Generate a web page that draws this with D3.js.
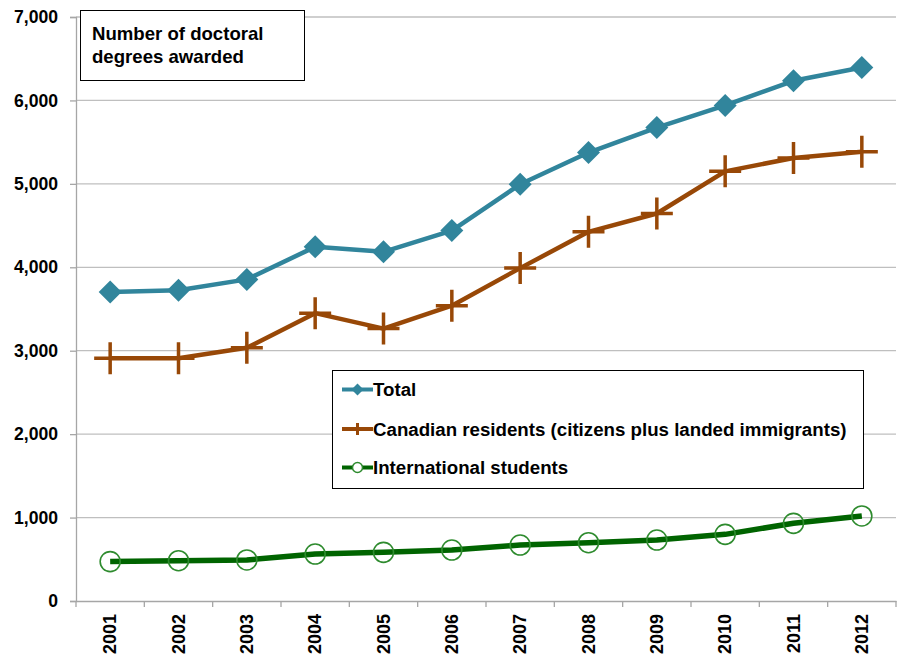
<!DOCTYPE html>
<html>
<head>
<meta charset="utf-8">
<script src="https://cdn.jsdelivr.net/npm/d3@7"></script>
<style>
  html, body { margin: 0; padding: 0; background: #fff; }
  svg { display: block; font-family: "Liberation Sans", Arial, sans-serif; }
</style>
</head>
<body>
<svg id="chart" width="903" height="658"></svg>
<script>
const years = ["2001","2002","2003","2004","2005","2006","2007","2008","2009","2010","2011","2012"];
const total = [3705, 3725, 3855, 4245, 4185, 4440, 4995, 5375, 5675, 5940, 6235, 6395];
const canadian = [2910, 2910, 3035, 3450, 3265, 3540, 3990, 4425, 4645, 5150, 5310, 5385];
const international = [472, 483, 492, 563, 583, 611, 671, 699, 731, 799, 931, 1019];
const yTicks = [0, 1000, 2000, 3000, 4000, 5000, 6000, 7000];
const seriesNames = ["Total", "Canadian residents (citizens plus landed immigrants)", "International students"];
const chartTitle = ["Number of doctoral", "degrees awarded"];

const svg = d3.select("#chart");
const margin = { left: 76, right: 7, top: 17, bottom: 57 };
const W = 903, H = 658;

const x = d3.scaleBand().domain(years).range([margin.left, W - margin.right]);
const y = d3.scaleLinear().domain([0, 7000]).range([H - margin.bottom, margin.top]);

// gridlines
svg.append("g").selectAll("line").data(yTicks.filter(d => d > 0)).join("line")
  .attr("x1", margin.left).attr("x2", W - margin.right)
  .attr("y1", d => y(d)).attr("y2", d => y(d))
  .attr("stroke", "#bfbfbf").attr("stroke-width", 1.3);

// y axis
const yAxis = svg.append("g").attr("transform", `translate(${margin.left},0)`)
  .call(d3.axisLeft(y).tickValues(yTicks).tickSize(6).tickPadding(12).tickFormat(d3.format(",")));
yAxis.select(".domain").attr("stroke", "#a6a6a6").attr("stroke-width", 1.3);
yAxis.selectAll(".tick line").attr("stroke", "#a6a6a6").attr("stroke-width", 1.3);
yAxis.selectAll("text").attr("font-size", 17.6).attr("font-weight", "bold").attr("fill", "#000")
  .attr("font-family", "Liberation Sans, Arial, sans-serif");

// x axis
const xAxis = svg.append("g").attr("transform", `translate(0,${y(0)})`)
  .call(d3.axisBottom(x).tickSize(0).tickPadding(0));
xAxis.select(".domain").attr("stroke", "#a6a6a6").attr("stroke-width", 1.3);
// band boundary ticks
const bounds = years.map(d => x(d)).concat([x(years[years.length-1]) + x.bandwidth()]);
svg.append("g").selectAll("line").data(bounds).join("line")
  .attr("x1", d => d).attr("x2", d => d)
  .attr("y1", y(0)).attr("y2", y(0) + 6)
  .attr("stroke", "#a6a6a6").attr("stroke-width", 1.3);
xAxis.selectAll("text")
  .attr("font-size", 18).attr("font-weight", "bold").attr("fill", "#000")
  .attr("font-family", "Liberation Sans, Arial, sans-serif")
  .attr("transform", "rotate(-90)")
  .attr("text-anchor", "end")
  .attr("x", -13).attr("y", 0).attr("dy", "0.35em");

const cx = d => x(d) + x.bandwidth() / 2;

// lines
const lineGen = d3.line().x((d, i) => cx(years[i])).y(d => y(d));

const colTotal = "#31859c";
const colCan = "#984807";
const colIntLine = "#006400";
const colIntMark = "#2e8b2e";

// International
svg.append("path").datum(international).attr("d", lineGen)
  .attr("fill", "none").attr("stroke", colIntLine).attr("stroke-width", 5.5).attr("stroke-linejoin", "round");
svg.append("g").selectAll("circle").data(international).join("circle")
  .attr("cx", (d, i) => cx(years[i])).attr("cy", d => y(d)).attr("r", 10)
  .attr("fill", "none").attr("stroke", colIntMark).attr("stroke-width", 1.6);

// Canadian
svg.append("path").datum(canadian).attr("d", lineGen)
  .attr("fill", "none").attr("stroke", colCan).attr("stroke-width", 4.5).attr("stroke-linejoin", "round");
svg.append("g").selectAll("path").data(canadian).join("path")
  .attr("d", (d, i) => {
    const px = cx(years[i]), py = y(d), s = 16;
    return `M${px - s},${py}H${px + s}M${px},${py - s}V${py + s}`;
  })
  .attr("stroke", colCan).attr("stroke-width", 3.5).attr("fill", "none");

// Total
svg.append("path").datum(total).attr("d", lineGen)
  .attr("fill", "none").attr("stroke", colTotal).attr("stroke-width", 4.5).attr("stroke-linejoin", "round");
svg.append("g").selectAll("path").data(total).join("path")
  .attr("d", (d, i) => {
    const px = cx(years[i]), py = y(d), s = 11.5;
    return `M${px},${py - s}L${px + s},${py}L${px},${py + s}L${px - s},${py}Z`;
  })
  .attr("fill", colTotal);

// Title box
const tb = svg.append("g");
tb.append("rect").attr("x", 80.5).attr("y", 10.5).attr("width", 224).attr("height", 70)
  .attr("fill", "#fff").attr("stroke", "#000").attr("stroke-width", 1);
tb.selectAll("text").data(chartTitle).join("text")
  .attr("x", 92).attr("y", (d, i) => 40 + i * 23)
  .attr("font-size", 18.6).attr("font-weight", "bold").text(d => d);

// Legend
const lg = svg.append("g");
lg.append("rect").attr("x", 332.5).attr("y", 370.5).attr("width", 531).attr("height", 118)
  .attr("fill", "#fff").attr("stroke", "#000").attr("stroke-width", 1);
const legY = [389.5, 429, 467.5];
const legItems = lg.selectAll("g").data(seriesNames).join("g")
  .attr("transform", (d, i) => `translate(342,${legY[i]})`);
legItems.append("line").attr("x1", 0).attr("x2", 31).attr("y1", 0).attr("y2", 0)
  .attr("stroke", (d, i) => [colTotal, colCan, colIntLine][i]).attr("stroke-width", 4);
legItems.each(function(d, i) {
  const g = d3.select(this);
  if (i === 0) g.append("path").attr("d", "M15.5,-6L21.5,0L15.5,6L9.5,0Z").attr("fill", colTotal);
  if (i === 1) g.append("path").attr("d", "M15.5,-6V6").attr("stroke", colCan).attr("stroke-width", 3);
  if (i === 2) g.append("circle").attr("cx", 15.5).attr("cy", 0).attr("r", 5).attr("fill", "#fff")
    .attr("stroke", colIntMark).attr("stroke-width", 1.5);
});
legItems.append("text").attr("x", 31).attr("y", 0).attr("dy", "0.35em")
  .attr("font-size", 18.7).attr("font-weight", "bold").text(d => d);
</script>
</body>
</html>
